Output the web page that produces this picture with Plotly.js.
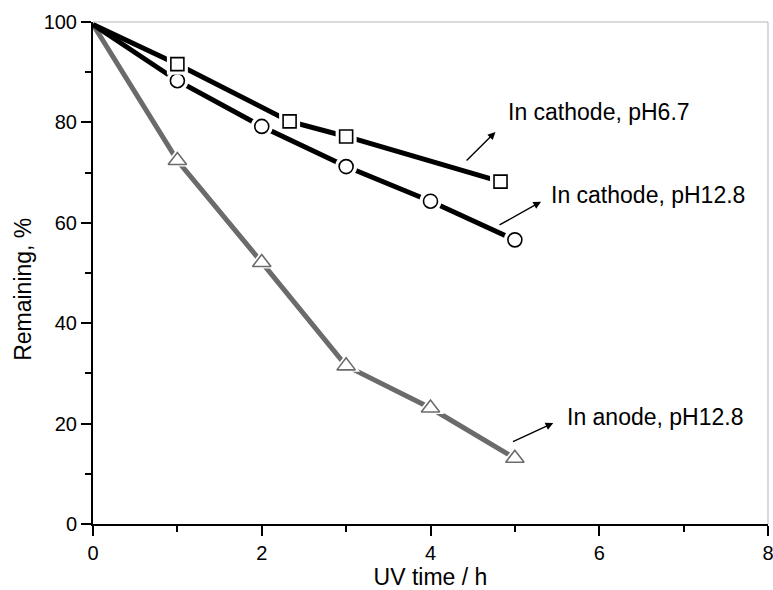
<!DOCTYPE html>
<html>
<head>
<meta charset="utf-8">
<script src="https://cdn.plot.ly/plotly-3.0.1.min.js"></script>
<style>html,body{margin:0;padding:0;background:#fff;}#chart{width:773px;height:590px;}</style>
</head>
<body>
<div id="chart"></div>
<script>
// ---- data ----
const timeCathode67 = [0, 1, 2.33, 3, 4.83];
const remainingCathode67 = [99.5, 91.6, 80.2, 77.2, 68.2];

const timeCathode128 = [0, 1, 2, 3, 4, 5];
const remainingCathode128 = [99.5, 88.3, 79.2, 71.2, 64.3, 56.6];

const timeAnode128 = [0, 1, 2, 3, 4, 5];
const remainingAnode128 = [99.5, 72.4, 52.1, 31.5, 23.1, 13.1];

const seriesLabels = ["In cathode, pH6.7", "In cathode, pH12.8", "In anode, pH12.8"];
const xTitle = "UV time / h";
const yTitle = "Remaining, %";

const FONT = '"Liberation Sans", Arial, Helvetica, sans-serif';

function series(x, y, lineColor, symbol, size) {
  const mx = x.slice(1), my = y.slice(1);
  return [
    {x: x, y: y, mode: 'lines', line: {color: lineColor, width: 5}, hoverinfo: 'skip', showlegend: false},
    {x: mx, y: my, mode: 'markers', marker: {symbol: symbol, size: size + 8, color: '#ffffff', line: {width: 0}}, hoverinfo: 'skip', showlegend: false},
    {x: mx, y: my, mode: 'markers', marker: {symbol: symbol, size: size, color: '#ffffff', line: {color: lineColor, width: 1.6}}, showlegend: false}
  ];
}

const traces = [].concat(
  series(timeAnode128, remainingAnode128, '#6b6b6b', 'triangle-up', 16),
  series(timeCathode128, remainingCathode128, '#000000', 'circle', 14),
  series(timeCathode67, remainingCathode67, '#000000', 'square', 13)
);

function arrow(hx, hy, tx, ty) {
  return {x: hx, y: hy, ax: tx, ay: ty, xref: 'x', yref: 'y', axref: 'x', ayref: 'y',
    text: '', showarrow: true, arrowhead: 2, arrowsize: 1.1, arrowwidth: 1.4, arrowcolor: '#000'};
}
function label(txt, x, y) {
  return {x: x, y: y, xref: 'x', yref: 'y', text: txt, showarrow: false, xanchor: 'left', yanchor: 'middle',
    font: {family: FONT, size: 23, color: '#000'}};
}

const layout = {
  width: 773, height: 590,
  margin: {l: 93, r: 5, t: 22, b: 66},
  paper_bgcolor: '#fff', plot_bgcolor: '#fff',
  font: {family: FONT, color: '#000'},
  showlegend: false,
  xaxis: {
    range: [0, 8], dtick: 2, tick0: 0, showgrid: false, zeroline: false,
    showline: true, linecolor: '#000', linewidth: 2,
    ticks: 'outside', ticklen: 10, tickwidth: 2, tickcolor: '#000',
    ticklabeloverflow: 'allow',
    minor: {dtick: 1, ticks: 'outside', ticklen: 6, tickwidth: 2, tickcolor: '#000', showgrid: false},
    tickfont: {family: FONT, size: 20, color: '#000'},
    title: {text: xTitle, font: {family: FONT, size: 23, color: '#000'}, standoff: 12}
  },
  yaxis: {
    range: [0, 100], dtick: 20, tick0: 0, showgrid: false, zeroline: false,
    showline: true, linecolor: '#000', linewidth: 2,
    ticks: 'outside', ticklen: 10, tickwidth: 2, tickcolor: '#000',
    ticklabeloverflow: 'allow',
    minor: {dtick: 10, ticks: 'outside', ticklen: 6, tickwidth: 2, tickcolor: '#000', showgrid: false},
    tickfont: {family: FONT, size: 20, color: '#000'}
  },
  shapes: [
    {type: 'line', xref: 'paper', yref: 'paper', x0: 0, x1: 1, y0: 1, y1: 1, line: {color: '#b5b5b5', width: 1}},
    {type: 'line', xref: 'paper', yref: 'paper', x0: 1, x1: 1, y0: 0, y1: 1, line: {color: '#b5b5b5', width: 1}}
  ],
  annotations: [
    arrow(4.77, 78.1, 4.41, 72.1),
    arrow(5.31, 64.2, 4.80, 59.4),
    arrow(5.455, 20.1, 4.96, 16.25),
    label(seriesLabels[0], 4.90, 82.1),
    label(seriesLabels[1], 5.40, 65.6),
    label(seriesLabels[2], 5.59, 21.4),
    {xref: 'paper', yref: 'paper', x: -0.104, y: 0.468, text: yTitle, textangle: -90, showarrow: false,
      xanchor: 'center', yanchor: 'middle', font: {family: FONT, size: 23, color: '#000'}}
  ]
};

Plotly.newPlot('chart', traces, layout, {displayModeBar: false, staticPlot: true});
</script>
</body>
</html>
